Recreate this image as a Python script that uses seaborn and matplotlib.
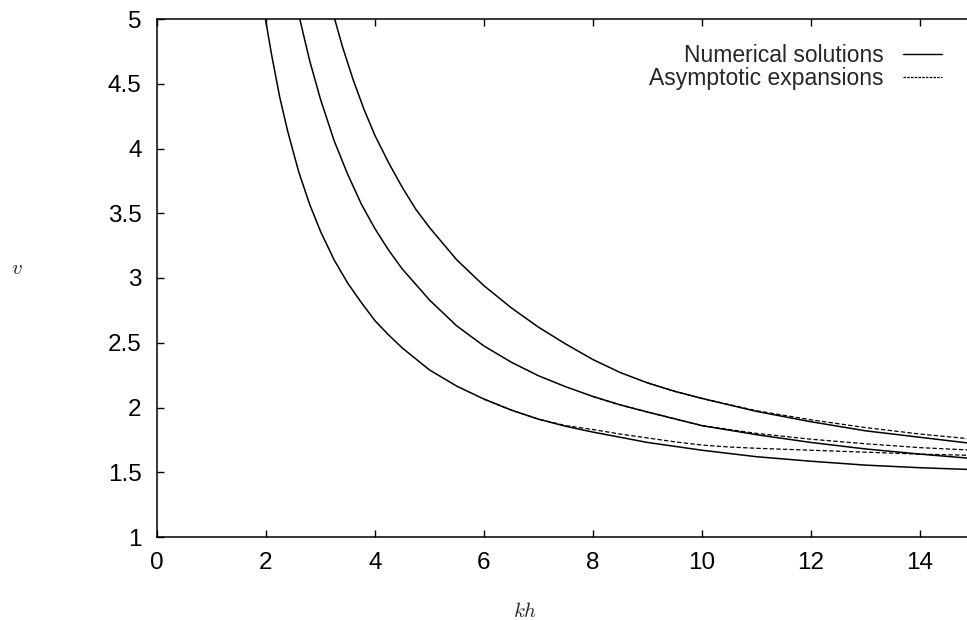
import numpy as np
import pandas as pd
import matplotlib
matplotlib.use("Agg")
import matplotlib.pyplot as plt
from matplotlib.lines import Line2D
import seaborn as sns

# ---- data ----
kh_low = [1.99, 2.1, 2.25, 2.4, 2.6, 2.8, 3.0, 3.25, 3.5, 3.75, 4.0, 4.25, 4.5, 5.0, 5.5, 6.0, 6.5, 7.0, 7.5, 8.0, 9.0, 10.0, 11.0, 12.0, 13.0, 14.0, 15.0]
v_low = [5.0, 4.73, 4.40, 4.13, 3.82, 3.57, 3.36, 3.14, 2.96, 2.81, 2.67, 2.56, 2.46, 2.29, 2.165, 2.065, 1.98, 1.91, 1.855, 1.81, 1.73, 1.67, 1.62, 1.585, 1.555, 1.535, 1.52]

kh_mid = [2.62, 2.8, 3.0, 3.25, 3.5, 3.75, 4.0, 4.25, 4.5, 5.0, 5.5, 6.0, 6.5, 7.0, 7.5, 8.0, 8.5, 9.0, 10.0, 11.0, 12.0, 13.0, 14.0, 15.0]
v_mid = [5.0, 4.68, 4.38, 4.06, 3.80, 3.57, 3.38, 3.215, 3.07, 2.83, 2.63, 2.475, 2.35, 2.245, 2.16, 2.085, 2.02, 1.965, 1.86, 1.79, 1.73, 1.68, 1.64, 1.605]

kh_top = [3.26, 3.4, 3.6, 3.8, 4.0, 4.25, 4.5, 4.75, 5.0, 5.5, 6.0, 6.5, 7.0, 7.5, 8.0, 8.5, 9.0, 9.5, 10.0, 11.0, 12.0, 13.0, 14.0, 15.0]
v_top = [5.0, 4.79, 4.53, 4.30, 4.10, 3.89, 3.70, 3.53, 3.39, 3.14, 2.94, 2.77, 2.62, 2.49, 2.37, 2.27, 2.19, 2.125, 2.07, 1.97, 1.89, 1.82, 1.77, 1.72]

kh_asym_low = [6.0, 6.5, 7.0, 7.5, 8.0, 8.5, 9.0, 9.5, 10.0, 10.5, 11.0, 12.0, 13.0, 14.0, 15.0]
v_asym_low = [2.065, 1.98, 1.91, 1.86, 1.83, 1.795, 1.765, 1.735, 1.71, 1.695, 1.685, 1.67, 1.655, 1.64, 1.63]

kh_asym_mid = [8.0, 8.5, 9.0, 10.0, 10.5, 11.0, 12.0, 13.0, 14.0, 15.0]
v_asym_mid = [2.085, 2.02, 1.965, 1.86, 1.83, 1.80, 1.755, 1.72, 1.69, 1.67]

kh_asym_top = [9.0, 9.5, 10.0, 11.0, 12.0, 13.0, 14.0, 15.0]
v_asym_top = [2.19, 2.125, 2.07, 1.975, 1.905, 1.845, 1.795, 1.755]

legend_labels = ["Numerical solutions", "Asymptotic expansions"]
x_ticks = [0, 2, 4, 6, 8, 10, 12, 14]
y_ticks = [1, 1.5, 2, 2.5, 3, 3.5, 4, 4.5, 5]

# ---- style ----
sns.set_theme(style="ticks")
plt.rcParams["font.family"] = ["Liberation Sans", "DejaVu Sans"]
plt.rcParams["mathtext.fontset"] = "cm"

fig = plt.figure(figsize=(9.67, 6.2), dpi=100)
fig.patch.set_facecolor("white")
ax = fig.add_axes([157 / 967, 1 - 537 / 620, 817.5 / 967, 518 / 620])
ax.set_facecolor("white")

DASH = (3.5, 1.8)

for kh, v in [(kh_low, v_low), (kh_mid, v_mid), (kh_top, v_top)]:
    df = pd.DataFrame({"kh": kh, "v": v})
    sns.lineplot(data=df, x="kh", y="v", ax=ax, sort=False, estimator=None,
                 color="black", linewidth=1.1)

for kh, v in [(kh_asym_low, v_asym_low), (kh_asym_mid, v_asym_mid), (kh_asym_top, v_asym_top)]:
    df = pd.DataFrame({"kh": kh, "v": v})
    sns.lineplot(data=df, x="kh", y="v", ax=ax, sort=False, estimator=None,
                 color="black", linewidth=0.9)
    ax.lines[-1].set_dashes(DASH)

ax.set_xlim(0, 15)
ax.set_ylim(1, 5)
ax.set_xticks(x_ticks)
ax.set_yticks(y_ticks)
ax.set_xticklabels([str(t) for t in x_ticks])
ax.set_yticklabels([("%g" % t) for t in y_ticks])

for s in ax.spines.values():
    s.set_visible(True)
    s.set_color("black")
    s.set_linewidth(1.1)

ax.tick_params(axis="both", which="major", direction="in", length=5, width=1.0,
               top=True, right=True, labelsize=17.5, colors="black", pad=11)

ax.set_xlabel("$kh$", fontsize=15)
ax.set_ylabel("$v$", fontsize=15, rotation=0)
ax.xaxis.set_label_coords(0.45, -0.125)
ax.yaxis.set_label_coords(-0.172, 0.5)

handles = [Line2D([0], [0], color="black", linewidth=1.0),
           Line2D([0], [0], color="black", linewidth=0.9, dashes=(2, 1))]
leg = ax.legend(handles, legend_labels, loc="upper right", frameon=False,
                markerfirst=False, fontsize=16.5, handlelength=1.7, handletextpad=0.85,
                labelspacing=0.0, borderaxespad=0.0, bbox_to_anchor=(0.9713, 0.97))
for t in leg.get_texts():
    t.set_ha("right")

fig.savefig("out.png", dpi=100, facecolor="white")
